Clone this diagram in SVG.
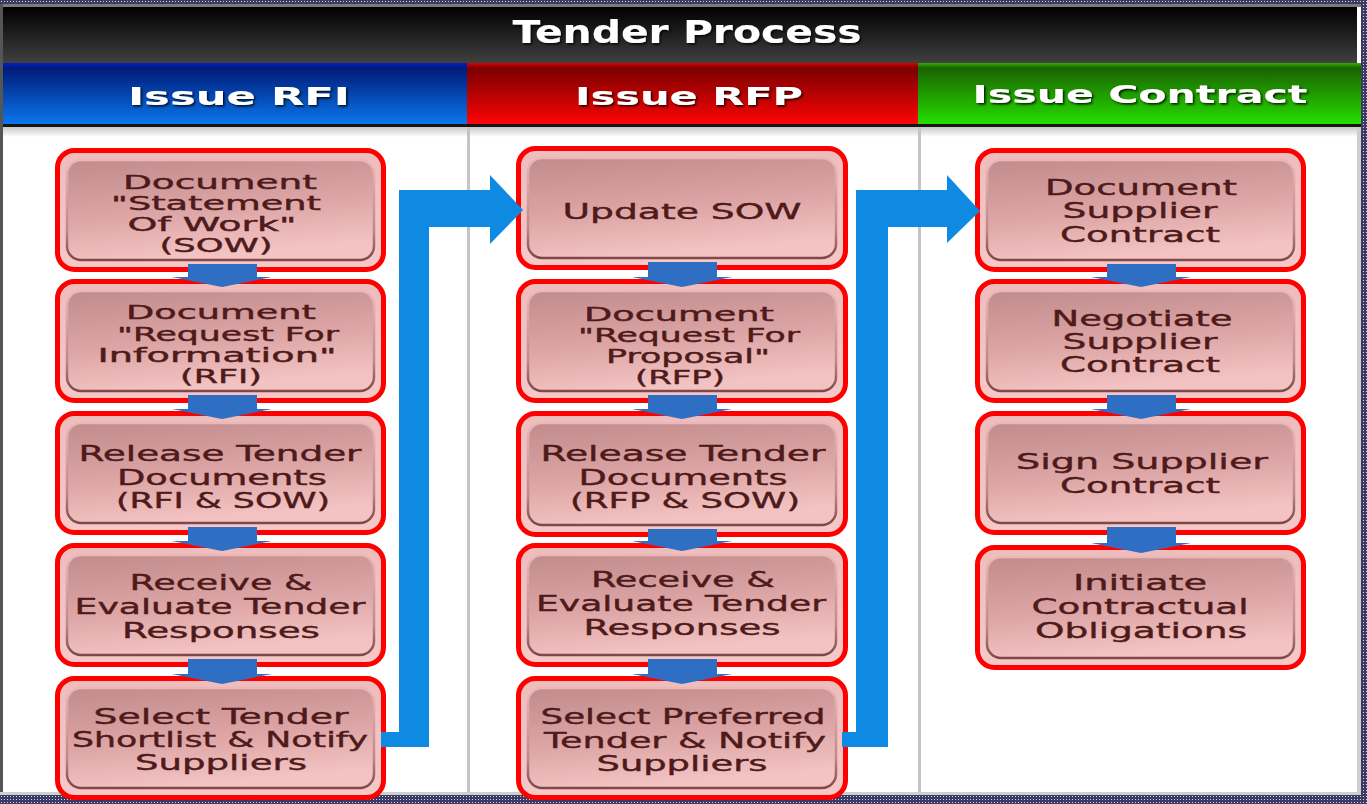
<svg xmlns="http://www.w3.org/2000/svg" width="1367" height="804" viewBox="0 0 1367 804">
<defs>
<pattern id="dots" width="3" height="3" patternUnits="userSpaceOnUse">
<rect width="3" height="3" fill="#3b3b63"/><rect x="1" y="1" width="1" height="1" fill="#d8d8e8"/>
</pattern>
<linearGradient id="gTitle" x1="0" y1="0" x2="0" y2="1"><stop offset="0" stop-color="#000"/><stop offset="1" stop-color="#404040"/></linearGradient>
<linearGradient id="gBlue" x1="0" y1="0" x2="0" y2="1"><stop offset="0" stop-color="#0020c8"/><stop offset="0.08" stop-color="#001a78"/><stop offset="1" stop-color="#0a78ee"/></linearGradient>
<linearGradient id="gRed" x1="0" y1="0" x2="0" y2="1"><stop offset="0" stop-color="#e00000"/><stop offset="0.08" stop-color="#7a0000"/><stop offset="1" stop-color="#ff0505"/></linearGradient>
<linearGradient id="gGreen" x1="0" y1="0" x2="0" y2="1"><stop offset="0" stop-color="#30b000"/><stop offset="0.08" stop-color="#1a6200"/><stop offset="1" stop-color="#26e000"/></linearGradient>
<linearGradient id="gShade" x1="0" y1="0" x2="0" y2="1"><stop offset="0" stop-color="#c8c8c8"/><stop offset="1" stop-color="#ffffff"/></linearGradient>
<linearGradient id="gOuter" x1="0" y1="0" x2="0" y2="1"><stop offset="0" stop-color="#efbcbc"/><stop offset="1" stop-color="#f6c8c8"/></linearGradient>
<linearGradient id="gInner" x1="0" y1="0" x2="0.25" y2="1"><stop offset="0" stop-color="#c28c8c"/><stop offset="0.55" stop-color="#dca4a4"/><stop offset="1" stop-color="#f3c2c2"/></linearGradient>
<linearGradient id="gEdge" x1="0" y1="0" x2="0" y2="1"><stop offset="0" stop-color="#eab8b8"/><stop offset="0.7" stop-color="#c08888"/><stop offset="1" stop-color="#7e4848"/></linearGradient>
<filter id="sh" x="-10%" y="-30%" width="120%" height="160%"><feDropShadow dx="1.5" dy="1.5" stdDeviation="1" flood-color="#000" flood-opacity="0.85"/></filter>
</defs>
<style>
.outer{fill:url(#gOuter);stroke:#ff0000;stroke-width:5}
.inner{fill:url(#gInner);stroke:url(#gEdge);stroke-width:2.5}
.t{font-family:"DejaVu Sans","Liberation Sans",sans-serif;font-size:22px;fill:#4e1a1a;stroke:#4e1a1a;stroke-width:0.4;text-anchor:middle}
.t4{font-size:19px}
.h{font-family:"DejaVu Sans","Liberation Sans",sans-serif;font-weight:bold;fill:#fff;text-anchor:middle;filter:url(#sh)}
.sc{fill:#2e6fc4}
.big{fill:#0e8ae2}
</style>
<rect width="1367" height="804" fill="#fff"/>
<!-- frame -->
<rect x="0" y="0" width="1367" height="4" fill="url(#dots)"/>
<rect x="1361" y="0" width="6" height="804" fill="url(#dots)"/>
<rect x="0" y="795" width="1367" height="9" fill="url(#dots)"/>
<rect x="0" y="4" width="1361" height="3" fill="#7a7a7a"/>
<rect x="0" y="4" width="3" height="791" fill="#555"/>
<rect x="1357" y="127" width="4" height="668" fill="#cfcfcf"/>
<rect x="0" y="792" width="1361" height="3" fill="#cfcfcf"/>
<!-- title -->
<rect x="3" y="7" width="1354" height="56" fill="url(#gTitle)"/>
<text class="h" x="687" y="43" font-size="32" textLength="349" lengthAdjust="spacingAndGlyphs">Tender Process</text>
<!-- lane headers -->
<rect x="3" y="63" width="464" height="62" fill="url(#gBlue)"/>
<rect x="467" y="63" width="451" height="62" fill="url(#gRed)"/>
<rect x="918" y="63" width="443" height="62" fill="url(#gGreen)"/>
<rect x="3" y="124" width="1358" height="3" fill="#151515"/>
<rect x="3" y="127" width="1354" height="10" fill="url(#gShade)"/>
<text class="h" x="239" y="105" font-size="24" textLength="222" lengthAdjust="spacingAndGlyphs">Issue RFI</text>
<text class="h" x="689" y="105" font-size="24" textLength="228" lengthAdjust="spacingAndGlyphs">Issue RFP</text>
<text class="h" x="1140" y="103" font-size="24" textLength="335" lengthAdjust="spacingAndGlyphs">Issue Contract</text>
<!-- lane separators -->
<rect x="467" y="127" width="3" height="665" fill="#c4c4c4"/>
<rect x="918" y="127" width="3" height="665" fill="#c4c4c4"/>

<!-- Column 1 -->
<g id="n1"><rect class="outer" x="57.5" y="150.5" width="326" height="119" rx="17"/><rect class="inner" x="67" y="160" width="307" height="100" rx="14"/>
<text class="t t4" x="220" y="189" textLength="194" lengthAdjust="spacingAndGlyphs">Document</text>
<text class="t t4" x="216" y="210" textLength="210" lengthAdjust="spacingAndGlyphs">"Statement</text>
<text class="t t4" x="212" y="231" textLength="169" lengthAdjust="spacingAndGlyphs">Of Work"</text>
<text class="t t4" x="216" y="252" textLength="113" lengthAdjust="spacingAndGlyphs">(SOW)</text></g>
<g id="n2"><rect class="outer" x="57.5" y="281.5" width="326" height="119" rx="17"/><rect class="inner" x="67" y="291" width="307" height="100" rx="14"/>
<text class="t t4" x="221" y="319" textLength="190" lengthAdjust="spacingAndGlyphs">Document</text>
<text class="t t4" x="228" y="341" textLength="222" lengthAdjust="spacingAndGlyphs">"Request For</text>
<text class="t t4" x="217" y="362" textLength="239" lengthAdjust="spacingAndGlyphs">Information"</text>
<text class="t t4" x="221" y="383" textLength="82" lengthAdjust="spacingAndGlyphs">(RFI)</text></g>
<g id="n3"><rect class="outer" x="57.5" y="413.5" width="326" height="119" rx="17"/><rect class="inner" x="67" y="423" width="307" height="100" rx="14"/>
<text class="t" x="220" y="461" textLength="283" lengthAdjust="spacingAndGlyphs">Release Tender</text>
<text class="t" x="222" y="485" textLength="210" lengthAdjust="spacingAndGlyphs">Documents</text>
<text class="t" x="223" y="508" textLength="214" lengthAdjust="spacingAndGlyphs">(RFI &amp; SOW)</text></g>
<g id="n4"><rect class="outer" x="57.5" y="545.5" width="326" height="119" rx="17"/><rect class="inner" x="67" y="555" width="307" height="100" rx="14"/>
<text class="t" x="221" y="590" textLength="183" lengthAdjust="spacingAndGlyphs">Receive &amp;</text>
<text class="t" x="220" y="614" textLength="291" lengthAdjust="spacingAndGlyphs">Evaluate Tender</text>
<text class="t" x="221" y="638" textLength="198" lengthAdjust="spacingAndGlyphs">Responses</text></g>
<g id="n5"><rect class="outer" x="57.5" y="678.5" width="326" height="119" rx="17"/><rect class="inner" x="67" y="688" width="307" height="100" rx="14"/>
<text class="t" x="221" y="724" textLength="255" lengthAdjust="spacingAndGlyphs">Select Tender</text>
<text class="t" x="220" y="747" textLength="296" lengthAdjust="spacingAndGlyphs">Shortlist &amp; Notify</text>
<text class="t" x="221" y="770" textLength="172" lengthAdjust="spacingAndGlyphs">Suppliers</text></g>

<!-- Column 2 -->
<g id="m1"><rect class="outer" x="518.5" y="148.5" width="327" height="119" rx="17"/><rect class="inner" x="528" y="158" width="308" height="100" rx="14"/>
<text class="t" x="682" y="219" textLength="239" lengthAdjust="spacingAndGlyphs">Update SOW</text></g>
<g id="m2"><rect class="outer" x="518.5" y="281.5" width="327" height="119" rx="17"/><rect class="inner" x="528" y="291" width="308" height="100" rx="14"/>
<text class="t t4" x="679" y="321" textLength="190" lengthAdjust="spacingAndGlyphs">Document</text>
<text class="t t4" x="689" y="342" textLength="222" lengthAdjust="spacingAndGlyphs">"Request For</text>
<text class="t t4" x="688" y="363" textLength="164" lengthAdjust="spacingAndGlyphs">Proposal"</text>
<text class="t t4" x="680" y="384" textLength="90" lengthAdjust="spacingAndGlyphs">(RFP)</text></g>
<g id="m3"><rect class="outer" x="518.5" y="413.5" width="327" height="121" rx="17"/><rect class="inner" x="528" y="423" width="308" height="102" rx="14"/>
<text class="t" x="683" y="461" textLength="285" lengthAdjust="spacingAndGlyphs">Release Tender</text>
<text class="t" x="683" y="485" textLength="209" lengthAdjust="spacingAndGlyphs">Documents</text>
<text class="t" x="685" y="508" textLength="230" lengthAdjust="spacingAndGlyphs">(RFP &amp; SOW)</text></g>
<g id="m4"><rect class="outer" x="518.5" y="545.5" width="327" height="119" rx="17"/><rect class="inner" x="528" y="555" width="308" height="100" rx="14"/>
<text class="t" x="683" y="587" textLength="184" lengthAdjust="spacingAndGlyphs">Receive &amp;</text>
<text class="t" x="681" y="611" textLength="290" lengthAdjust="spacingAndGlyphs">Evaluate Tender</text>
<text class="t" x="682" y="635" textLength="197" lengthAdjust="spacingAndGlyphs">Responses</text></g>
<g id="m5"><rect class="outer" x="518.5" y="678.5" width="327" height="119" rx="17"/><rect class="inner" x="528" y="688" width="308" height="100" rx="14"/>
<text class="t" x="683" y="724" textLength="285" lengthAdjust="spacingAndGlyphs">Select Preferred</text>
<text class="t" x="685" y="748" textLength="282" lengthAdjust="spacingAndGlyphs">Tender &amp; Notify</text>
<text class="t" x="682" y="771" textLength="171" lengthAdjust="spacingAndGlyphs">Suppliers</text></g>

<!-- Column 3 -->
<g id="p1"><rect class="outer" x="977.5" y="150.5" width="326" height="119" rx="17"/><rect class="inner" x="987" y="160" width="307" height="100" rx="14"/>
<text class="t" x="1141" y="195" textLength="192" lengthAdjust="spacingAndGlyphs">Document</text>
<text class="t" x="1140" y="218" textLength="155" lengthAdjust="spacingAndGlyphs">Supplier</text>
<text class="t" x="1140" y="242" textLength="160" lengthAdjust="spacingAndGlyphs">Contract</text></g>
<g id="p2"><rect class="outer" x="977.5" y="281.5" width="326" height="119" rx="17"/><rect class="inner" x="987" y="291" width="307" height="100" rx="14"/>
<text class="t" x="1142" y="326" textLength="181" lengthAdjust="spacingAndGlyphs">Negotiate</text>
<text class="t" x="1140" y="349" textLength="155" lengthAdjust="spacingAndGlyphs">Supplier</text>
<text class="t" x="1140" y="372" textLength="160" lengthAdjust="spacingAndGlyphs">Contract</text></g>
<g id="p3"><rect class="outer" x="977.5" y="413.5" width="326" height="119" rx="17"/><rect class="inner" x="987" y="423" width="307" height="100" rx="14"/>
<text class="t" x="1142" y="469" textLength="252" lengthAdjust="spacingAndGlyphs">Sign Supplier</text>
<text class="t" x="1140" y="493" textLength="160" lengthAdjust="spacingAndGlyphs">Contract</text></g>
<g id="p4"><rect class="outer" x="977.5" y="547.5" width="326" height="120" rx="17"/><rect class="inner" x="987" y="557" width="307" height="101" rx="14"/>
<text class="t" x="1140" y="590" textLength="134" lengthAdjust="spacingAndGlyphs">Initiate</text>
<text class="t" x="1140" y="614" textLength="217" lengthAdjust="spacingAndGlyphs">Contractual</text>
<text class="t" x="1141" y="638" textLength="212" lengthAdjust="spacingAndGlyphs">Obligations</text></g>

<!-- connectors -->
<g id="connectors">
<polygon class="sc" points="188,264 257,264 257,277 272,277 222,287 172,277 188,277"/>
<polygon class="sc" points="188,395 257,395 257,409 272,409 222,419 172,409 188,409"/>
<polygon class="sc" points="188,527 257,527 257,541 272,541 222,551 172,541 188,541"/>
<polygon class="sc" points="188,659 257,659 257,674 272,674 222,684 172,674 188,674"/>
<polygon class="sc" points="648,262 717,262 717,277 732,277 682,287 632,277 648,277"/>
<polygon class="sc" points="648,395 717,395 717,409 732,409 682,419 632,409 648,409"/>
<polygon class="sc" points="648,529 717,529 717,541 732,541 682,551 632,541 648,541"/>
<polygon class="sc" points="648,659 717,659 717,674 732,674 682,684 632,674 648,674"/>
<polygon class="sc" points="1107,264 1176,264 1176,277 1191,277 1141,287 1091,277 1107,277"/>
<polygon class="sc" points="1107,395 1176,395 1176,409 1191,409 1141,419 1091,409 1107,409"/>
<polygon class="sc" points="1107,527 1176,527 1176,543 1191,543 1141,553 1091,543 1107,543"/>
<polygon class="big" points="381,732 399,732 399,190 490,190 490,175 523,210 490,244 490,227 429,227 429,747 381,747"/>
<polygon class="big" points="842,732 856,732 856,190 947,190 947,175 980,211 947,243 947,227 888,227 888,747 842,747"/>
</g>
</svg>
